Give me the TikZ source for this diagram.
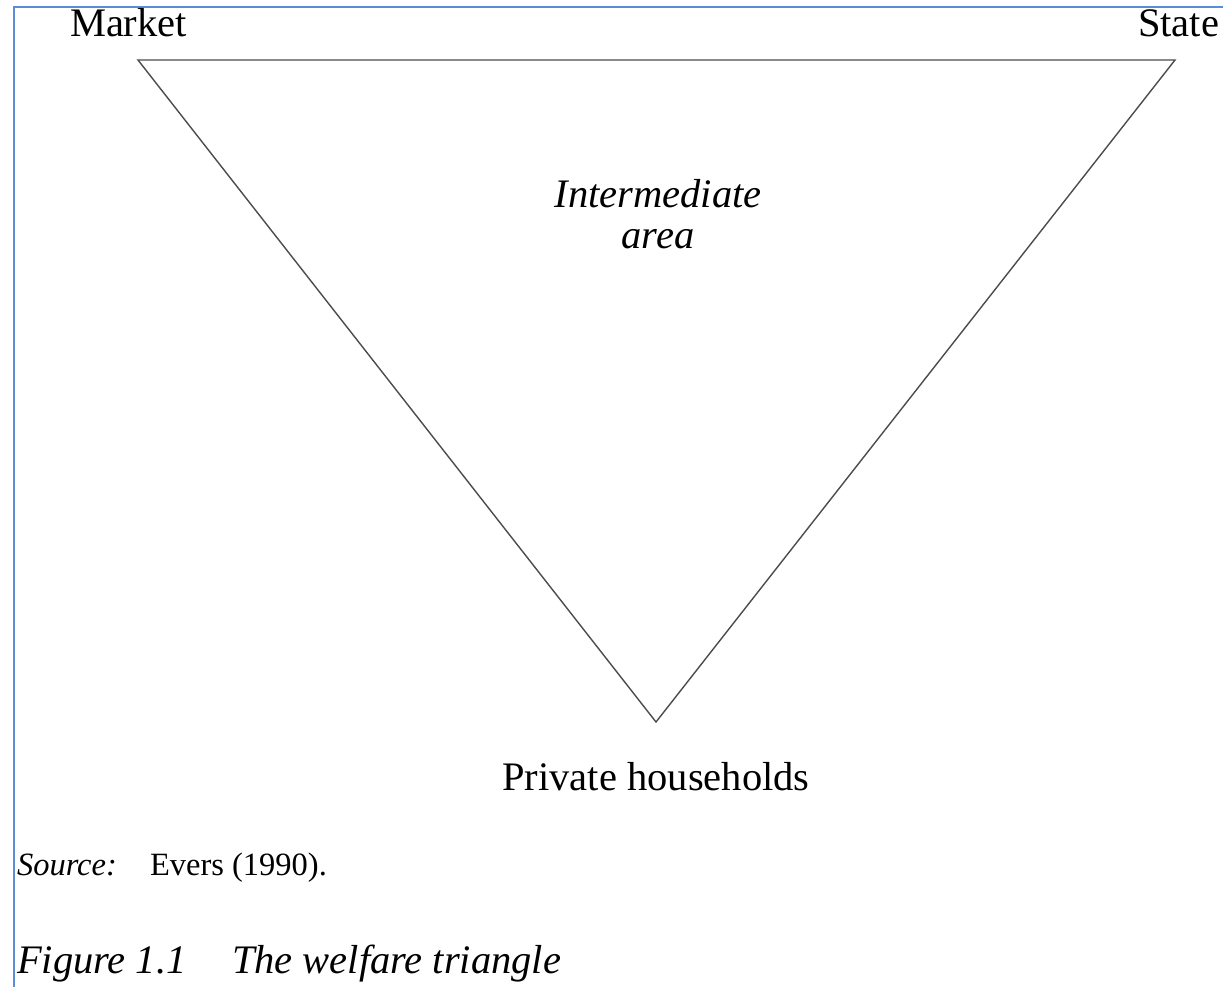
\documentclass[tikz,border=0pt]{standalone}
\usepackage{fontspec}
\setmainfont{Liberation Serif}
\begin{document}
\begin{tikzpicture}[x=1pt,y=-1pt,
  lbl/.style={inner sep=0pt,outer sep=0pt,font=\fontsize{40.5}{41}\selectfont},
  ilbl/.style={lbl,font=\fontsize{40.5}{41}\selectfont\itshape},
  src/.style={inner sep=0pt,outer sep=0pt,font=\fontsize{32.5}{34}\selectfont},
  tri/.style={draw=black!70,line width=1.4pt,line join=miter},
  frame/.style={draw=blue!45!cyan!60!black!80,line width=2pt}]
\useasboundingbox (0,0) rectangle (1223,986);
\fill[white] (0,0) rectangle (1223,986);
\draw[frame,draw={rgb,255:red,91;green,141;blue,214}] (14,990) -- (14,7) -- (1230,7);
\coordinate (M) at (138,60);
\coordinate (S) at (1175,60);
\coordinate (P) at (656,722);
\draw[tri] (M) -- (S) -- (P) -- cycle;
\node[lbl,anchor=base west] (market) at (70,36) {Market};
\node[lbl,anchor=base west] (state) at (1138,36) {State};
\node[ilbl,anchor=base] (inter) at (658,207) {Intermediate};
\node[ilbl,anchor=base] (area) at (658,248) {area};
\node[lbl,anchor=base] (priv) at (656,790) {Private households};
\node[src,anchor=base west,font=\fontsize{32.5}{34}\selectfont\itshape] (source) at (17,875) {Source:};
\node[src,anchor=base west] (evers) at (150,875) {Evers (1990).};
\node[ilbl,anchor=base west] (fig) at (17,973) {Figure 1.1};
\node[ilbl,anchor=base west] (title) at (232,973) {The welfare triangle};
\end{tikzpicture}
\end{document}
